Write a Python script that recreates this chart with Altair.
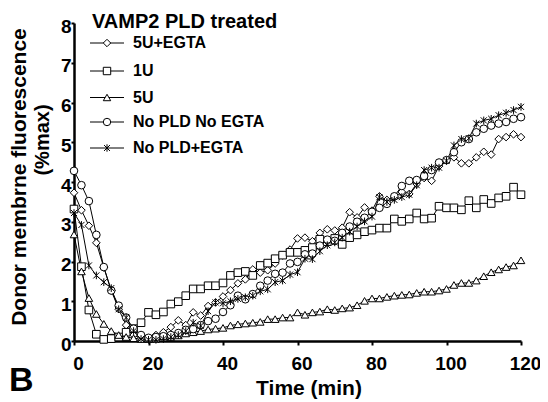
import altair as alt
import pandas as pd

TIME = [0, 2, 4, 6, 8, 10, 12, 14, 16, 18,
        20, 22, 24, 26, 28, 30, 32, 34, 36, 38,
        40, 42, 44, 46, 48, 50, 52, 54, 56, 58,
        60, 62, 64, 66, 68, 70, 72, 74, 76, 78,
        80, 82, 84, 86, 88, 90, 92, 94, 96, 98,
        100, 102, 104, 106, 108, 110, 112, 114, 116, 118, 120]

SERIES = ["5U+EGTA", "1U", "5U", "No PLD No EGTA", "No PLD+EGTA"]

U5_EGTA = [3.73, 3.29, 2.90, 2.47, 1.85, 1.27, 0.80, 0.40, 0.15, 0.06,
           0.08, 0.15, 0.22, 0.35, 0.52, 0.40, 0.72, 0.64, 0.88, 0.97,
           1.12, 1.28, 1.45, 1.55, 1.80, 1.72, 1.78, 1.95, 2.15, 2.30,
           2.58, 2.60, 2.51, 2.72, 2.81, 2.78, 2.85, 3.24, 3.11, 3.36,
           3.28, 3.64, 3.55, 3.62, 3.75, 3.70, 3.95, 4.10, 4.03, 4.40,
           4.55, 4.62, 4.47, 4.47, 4.62, 4.76, 4.69, 5.08, 5.13, 5.20, 5.13]

U1 = [3.32, 1.87, 0.78, 0.17, 0.04, 0.06, 0.10, 0.22, 0.31, 0.46,
      0.72, 0.66, 0.73, 0.93, 0.99, 1.14, 1.31, 1.31, 1.39, 1.39,
      1.46, 1.65, 1.72, 1.75, 1.65, 1.90, 1.96, 2.07, 2.16, 2.23,
      2.23, 2.28, 2.35, 2.56, 2.50, 2.58, 2.43, 2.60, 2.67, 2.75,
      2.79, 2.84, 2.84, 3.07, 3.01, 3.07, 3.22, 3.07, 3.09, 3.39,
      3.35, 3.35, 3.30, 3.53, 3.35, 3.56, 3.46, 3.60, 3.64, 3.87, 3.68]

U5 = [2.68, 1.75, 1.08, 0.68, 0.43, 0.25, 0.15, 0.10, 0.07, 0.05,
      0.05, 0.06, 0.08, 0.10, 0.14, 0.19, 0.22, 0.25, 0.29, 0.31,
      0.33, 0.39, 0.42, 0.44, 0.46, 0.48, 0.55, 0.55, 0.59, 0.59,
      0.72, 0.66, 0.72, 0.74, 0.80, 0.78, 0.82, 0.84, 0.90, 1.01,
      1.07, 1.07, 1.11, 1.14, 1.16, 1.17, 1.21, 1.24, 1.24, 1.27,
      1.31, 1.41, 1.46, 1.46, 1.52, 1.63, 1.73, 1.80, 1.86, 1.90, 2.03]

NO_PLD_NO_EGTA = [4.28, 3.92, 3.52, 2.67, 1.86, 1.27, 0.89, 0.59, 0.31, 0.15,
                  0.08, 0.10, 0.12, 0.15, 0.20, 0.28, 0.30, 0.40, 0.50, 0.56,
                  0.73, 0.90, 1.14, 1.05, 1.18, 1.39, 1.52, 1.69, 1.72, 1.95,
                  1.99, 2.18, 2.20, 2.40, 2.55, 2.52, 2.72, 2.88, 3.00, 3.10,
                  3.25, 3.35, 3.45, 3.64, 3.90, 4.03, 4.05, 4.15, 4.30, 4.49,
                  4.55, 4.75, 5.00, 5.08, 5.25, 5.34, 5.42, 5.47, 5.51, 5.59, 5.63]

NO_PLD_EGTA = [3.22, 2.92, 1.90, 1.65, 1.48, 1.33, 0.80, 0.59, 0.25, 0.05,
               0.03, 0.03, 0.05, 0.10, 0.15, 0.25, 0.46, 0.38, 0.75, 0.97,
               0.95, 1.00, 1.06, 1.10, 1.14, 1.25, 1.30, 1.48, 1.52, 1.67,
               1.73, 2.07, 2.06, 2.26, 2.41, 2.48, 2.60, 2.75, 2.88, 3.01,
               3.13, 3.62, 3.50, 3.55, 3.62, 3.68, 3.92, 4.30, 4.36, 4.36,
               4.53, 4.92, 5.08, 5.10, 5.47, 5.55, 5.59, 5.68, 5.74, 5.81, 5.89]

X_TICKS = [0, 20, 40, 60, 80, 100, 120]
Y_TICKS = [0, 1, 2, 3, 4, 5, 6, 7, 8]

ASTERISK = "M0,-1L0,1M-0.8,-0.8L0.8,0.8M-0.8,0.8L0.8,-0.8"
SHAPES = ["diamond", "square", "triangle-up", "circle", ASTERISK]

rows = []
for name, vals in zip(SERIES, [U5_EGTA, U1, U5, NO_PLD_NO_EGTA, NO_PLD_EGTA]):
    for t, v in zip(TIME, vals):
        rows.append({"series": name, "time": t, "value": v})
df = pd.DataFrame(rows)

FONT = "Liberation Sans"

x_enc = alt.X("time:Q",
              scale=alt.Scale(domain=[0, 120], nice=False, zero=False),
              axis=alt.Axis(values=X_TICKS, title=None, tickSize=4, labelPadding=9,
                            labelOffset=4, labelFlush=False, labelOverlap=False,
                            labelFontSize=19))
y_enc = alt.Y("value:Q",
              scale=alt.Scale(domain=[0, 8], nice=False, zero=False),
              axis=alt.Axis(values=Y_TICKS, title=None, tickSize=3, labelPadding=0,
                            labelOffset=3, labelFlush=False, labelOverlap=False,
                            labelFontSize=19))

lines = alt.Chart(df).mark_line(color="black", strokeWidth=1).encode(
    x=x_enc, y=y_enc, detail="series:N", order="time:Q")

points = alt.Chart(df).mark_point(fill="white", stroke="black", strokeWidth=1,
                                  opacity=1, size=58).encode(
    x=x_enc, y=y_enc,
    shape=alt.Shape("series:N", scale=alt.Scale(domain=SERIES, range=SHAPES), legend=None))

layers = [lines, points]

# manual legend: line + marker + label
LEG_Y = [20, 48, 74.5, 99, 125]
for name, shp, ly in zip(SERIES, SHAPES, LEG_Y):
    one = pd.DataFrame({"series": [name]})
    layers.append(alt.Chart(one).mark_rule(color="black", strokeWidth=1).encode(
        x=alt.value(16), x2=alt.value(50), y=alt.value(ly)))
    layers.append(alt.Chart(one).mark_point(shape=shp, fill="white", stroke="black",
                                            strokeWidth=1, opacity=1, size=55).encode(
        x=alt.value(33), y=alt.value(ly)))
    layers.append(alt.Chart(one).mark_text(align="left", baseline="middle", font=FONT,
                                           fontWeight="bold", fontSize=16, color="black").encode(
        x=alt.value(59), y=alt.value(ly), text="series:N"))

texts = pd.DataFrame({"t": ["VAMP2 PLD treated"]})
layers.append(alt.Chart(texts).mark_text(align="left", baseline="alphabetic", font=FONT,
                                         fontWeight="bold", fontSize=20, color="black").encode(
    x=alt.value(18), y=alt.value(5), text="t:N"))

ytitle1 = pd.DataFrame({"t": ["Donor membrne fluorescence"]})
layers.append(alt.Chart(ytitle1).mark_text(align="center", baseline="middle", angle=270,
                                           font=FONT, fontWeight="bold", fontSize=21,
                                           color="black").encode(
    x=alt.value(-54), y=alt.value(154), text="t:N"))
ytitle2 = pd.DataFrame({"t": ["(%max)"]})
layers.append(alt.Chart(ytitle2).mark_text(align="center", baseline="middle", angle=270,
                                           font=FONT, fontWeight="bold", fontSize=20,
                                           color="black").encode(
    x=alt.value(-31), y=alt.value(117), text="t:N"))

xtitle = pd.DataFrame({"t": ["Time (min)"]})
layers.append(alt.Chart(xtitle).mark_text(align="center", baseline="alphabetic", font=FONT,
                                          fontWeight="bold", fontSize=21, color="black").encode(
    x=alt.value(235), y=alt.value(372), text="t:N"))

panel = pd.DataFrame({"t": ["B"]})
layers.append(alt.Chart(panel).mark_text(align="left", baseline="alphabetic", font=FONT,
                                         fontWeight="bold", fontSize=34, color="black").encode(
    x=alt.value(-65), y=alt.value(368), text="t:N"))

chart = alt.layer(*layers).properties(
    width=447, height=318, autosize="none",
    padding={"left": 66, "top": 15, "right": 19, "bottom": 61},
    background="white",
).configure_view(stroke=None).configure_axis(
    grid=False, domainColor="black", domainWidth=2.5, tickColor="black", tickWidth=2,
    labelFont=FONT, labelFontWeight="bold", labelColor="black",
)

chart.save("out.html", embed_options={"renderer": "svg", "actions": False})
